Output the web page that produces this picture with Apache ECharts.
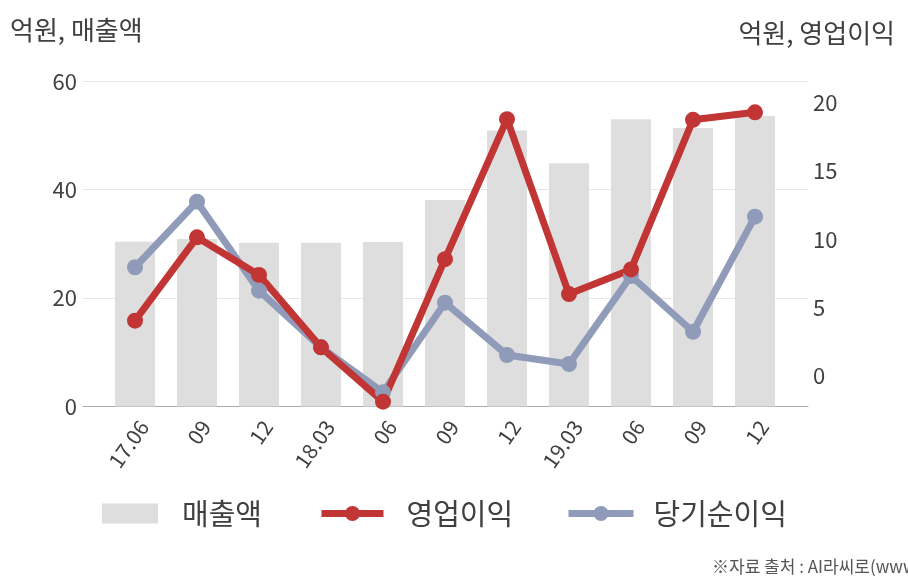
<!DOCTYPE html>
<html>
<head>
<meta charset="utf-8">
<script src="https://cdn.jsdelivr.net/npm/echarts@6/dist/echarts.min.js"></script>
<style>
html,body{margin:0;padding:0;background:#fff;}
#chart{width:908px;height:580px;}
</style>
</head>
<body>
<div id="chart"></div>
<script>
const categories = ['17.06','09','12','18.03','06','09','12','19.03','06','09','12'];
const sales = [30.4, 30.9, 30.2, 30.2, 30.35, 38.1, 50.9, 44.9, 53.0, 51.4, 53.6];
const operatingProfit = [4.05, 10.15, 7.4, 2.1, -1.88, 8.55, 18.8, 6.0, 7.8, 18.75, 19.3];
const netIncome = [7.96, 12.76, 6.25, 2.1, -1.19, 5.37, 1.54, 0.88, 7.32, 3.24, 11.66];
const leftTicks = [0, 60, 20];      // min, max, interval
const rightRange = [-2.23, 21.57];   // min, max

const FONT = '"Noto Sans CJK KR", "Noto Sans", sans-serif';
const TXT = '#404040';
const RED = '#c13535';
const BLUE = '#8f9bb8';
const BAR = '#dedede';

const chart = echarts.init(document.getElementById('chart'), null, {renderer: 'canvas'});
chart.setOption({
  backgroundColor: '#fff',
  animation: false,
  textStyle: {fontFamily: FONT},
  title: [
    {text: '억원, 매출액', left: 10, top: 17, padding: 0, textStyle: {fontSize: 26, fontWeight: 'normal', color: TXT, fontFamily: FONT}},
    {text: '억원, 영업이익', right: 13, top: 20, padding: 0, textStyle: {fontSize: 26, fontWeight: 'normal', color: TXT, fontFamily: FONT}},
    {text: '※자료 출처 : AI라씨로(www.thinkpool.com)', left: 712, top: 558, padding: 0, textStyle: {fontSize: 17, fontWeight: 'normal', color: '#555', fontFamily: FONT}}
  ],
  legend: [
    {data: ['매출액'], left: 102, top: 499, padding: 0, itemWidth: 56, itemHeight: 20, icon: 'rect',
     textStyle: {fontSize: 29, color: TXT, fontFamily: FONT, padding: [0, 0, 0, 19]}},
    {data: ['영업이익'], left: 318, top: 499, padding: 0, itemWidth: 62, itemHeight: 19,
     lineStyle: {width: 7}, textStyle: {fontSize: 29, color: TXT, fontFamily: FONT, padding: [0, 0, 0, 18]}},
    {data: ['당기순이익'], left: 565, top: 499, padding: 0, itemWidth: 65, itemHeight: 19,
     lineStyle: {width: 7}, textStyle: {fontSize: 29, color: TXT, fontFamily: FONT, padding: [0, 0, 0, 15]}}
  ],
  grid: [
    {left: 83, right: 100, top: 81.3, bottom: 173.5},
    {left: 104, right: 122, top: 81.3, bottom: 173.5}
  ],
  xAxis: [
    {gridIndex: 0, type: 'category', data: [''], boundaryGap: false,
     axisLine: {show: true, lineStyle: {color: '#aaaaaa', width: 1}},
     axisTick: {show: false}, axisLabel: {show: false}, splitLine: {show: false}},
    {gridIndex: 1, type: 'category', data: categories,
     axisLine: {show: false}, axisTick: {show: false},
     axisLabel: {rotate: 55, fontSize: 21, color: TXT, fontFamily: FONT, margin: 10, interval: 0, verticalAlign: 'top'}}
  ],
  yAxis: [
    {gridIndex: 0, type: 'value', min: leftTicks[0], max: leftTicks[1], interval: leftTicks[2],
     axisLine: {show: false}, axisTick: {show: false}, axisLabel: {show: false},
     splitLine: {show: true, lineStyle: {color: '#e6e6e6', width: 1}}},
    {gridIndex: 1, type: 'value', position: 'left', min: leftTicks[0], max: leftTicks[1], interval: leftTicks[2],
     axisLine: {show: false}, axisTick: {show: false}, splitLine: {show: false},
     axisLabel: {fontSize: 22, color: TXT, fontFamily: FONT, margin: 27}},
    {gridIndex: 1, type: 'value', position: 'right', min: rightRange[0], max: rightRange[1], splitNumber: 5,
     axisLine: {show: false}, axisTick: {show: false}, splitLine: {show: false},
     axisLabel: {fontSize: 22, color: TXT, fontFamily: FONT, margin: 27, showMinLabel: false, showMaxLabel: false}}
  ],
  series: [
    {name: '매출액', type: 'bar', xAxisIndex: 1, yAxisIndex: 1, data: sales, barWidth: 40,
     itemStyle: {color: BAR}},
    {name: '당기순이익', type: 'line', xAxisIndex: 1, yAxisIndex: 2, data: netIncome,
     symbol: 'circle', symbolSize: 16, lineStyle: {color: BLUE, width: 7}, itemStyle: {color: BLUE}},
    {name: '영업이익', type: 'line', xAxisIndex: 1, yAxisIndex: 2, data: operatingProfit,
     symbol: 'circle', symbolSize: 16, lineStyle: {color: RED, width: 7}, itemStyle: {color: RED}}
  ]
});
</script>
</body>
</html>
